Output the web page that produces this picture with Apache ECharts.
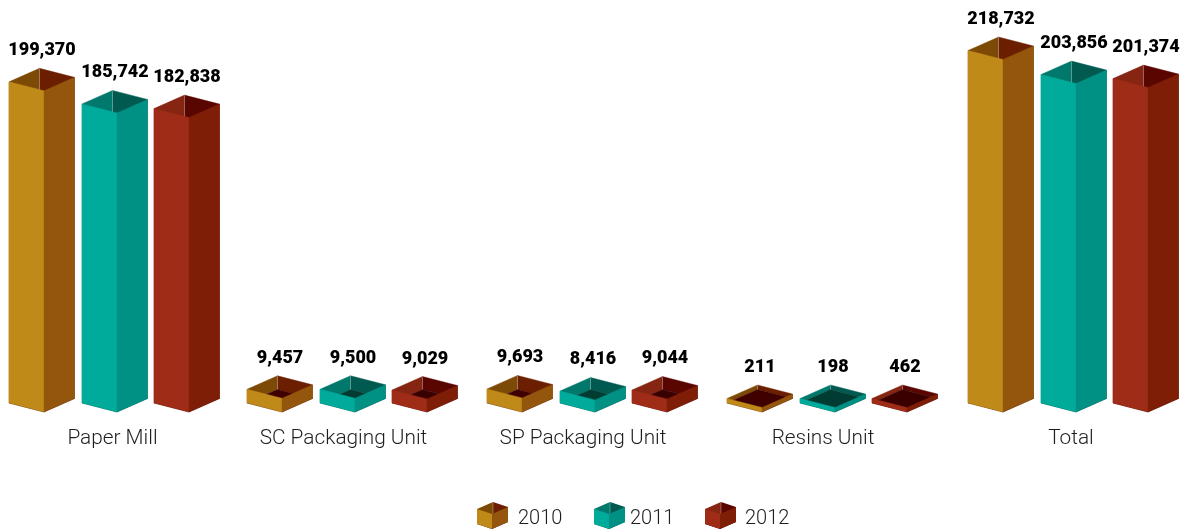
<!DOCTYPE html>
<html><head><meta charset="utf-8">
<style>html,body{margin:0;padding:0;background:#fff}#c{width:1182px;height:531px}</style>
<script src="https://cdn.jsdelivr.net/npm/echarts@6/dist/echarts.min.js"></script>
</head><body><div id="c"></div>
<script>
const categories = ['Paper Mill','SC Packaging Unit','SP Packaging Unit','Resins Unit','Total'];
const years = ['2010','2011','2012'];
const values2010 = [199370, 9457, 9693, 211, 218732];
const values2011 = [185742, 9500, 8416, 198, 203856];
const values2012 = [182838, 9029, 9044, 462, 201374];
const labelShift = [1.5, 10.25, 10.5, 10.25, 2];
const groupShift = [0, -1.75, -1.5, -1.25, 0];
const barOffset = [0, 73, 145];

const palettes = [
  {front:'#c08a19', side:'#94560c', inL:'#7d4a05', inR:'#6b1f00', floor:'#3f0000'},
  {front:'#00ab9c', side:'#009084', inL:'#00786c', inR:'#005a50', floor:'#003c32'},
  {front:'#9e2c17', side:'#7f1e06', inL:'#852512', inR:'#5a0600', floor:'#3a0000'}
];
const W1 = 35, W2 = 30.5, D1 = 9, D2 = 13.5, MIN_H = 4.5, Y_MIN = 1000;

function boxParts(fx, fy, h, p, w1, w2, d1, d2) {
  const L=[fx-w1,fy-d1-h], F=[fx,fy-h], R=[fx+w2,fy-d2-h], B=[fx-w1+w2,fy-d1-d2-h];
  const dn=(a)=>[a[0],a[1]+h];
  return [
    {pts:[L,B,dn(B),dn(L)],c:p.inL},
    {pts:[B,R,dn(R),dn(B)],c:p.inR},
    {pts:[dn(L),dn(B),dn(R),dn(F)],c:p.floor},
    {line:[B,dn(B)]},
    {pts:[L,F,dn(F),dn(L)],c:p.front},
    {pts:[F,R,dn(R),dn(F)],c:p.side}
  ];
}
function makeRender(s) {
  return function (params, api) {
    const i = api.value(0), v = api.value(1);
    const base = api.coord([i, Y_MIN]), top = api.coord([i, v]);
    const h = Math.max(base[1]-top[1], MIN_H);
    const fx = base[0]-105+groupShift[i]+barOffset[s]+W1, fy = base[1];
    const children = boxParts(fx, fy, h, palettes[s], W1, W2, D1, D2).map(o => o.line
      ? {type:'line', shape:{x1:o.line[0][0],y1:o.line[0][1],x2:o.line[1][0],y2:o.line[1][1]},
         style:{stroke:'rgba(255,255,255,0.3)',lineWidth:1}}
      : {type:'polygon', shape:{points:o.pts}, style:{fill:o.c, stroke:o.c, lineWidth:0.4}});
    children.push({type:'text', x:fx-2, y:fy-h-D1-D2-17.5,
      style:{text:echarts.format.addCommas(v), fill:'#000', font:'900 18px Roboto', align:'center', verticalAlign:'middle'}});
    return {type:'group', children};
  };
}
function legendIcon(p) {
  const parts = boxParts(15, 27, 15, p, 15, 16, 5, 7);
  const body = parts.map(o => o.line
    ? `<line x1="${o.line[0][0]}" y1="${o.line[0][1]}" x2="${o.line[1][0]}" y2="${o.line[1][1]}" stroke="#fff" stroke-opacity="0.3"/>`
    : `<polygon points="${o.pts.map(a=>a.join(',')).join(' ')}" fill="${o.c}"/>`).join('');
  return 'image://data:image/svg+xml;charset=utf8,' + encodeURIComponent(
    `<svg xmlns="http://www.w3.org/2000/svg" width="31" height="33" viewBox="0 0 31 33">${body}</svg>`);
}
const legendLefts = [477, 594, 705];
const legendPad = [5, 0, 4];
const chart = echarts.init(document.getElementById('c'));
const series = [values2010, values2011, values2012].map((vals, s) => ({
  type:'custom', name:years[s], renderItem:makeRender(s), clip:false,
  data: vals.map((v,i)=>[i,v]), encode:{x:0,y:1}
}));
chart.setOption({
  animation:false,
  backgroundColor:'#fff',
  grid:{left:114, width:959, top:7.25, bottom:119},
  xAxis:{type:'category', boundaryGap:false,
    data:categories.map((c,i)=>({value:c, textStyle:{padding:[0,labelShift[i]*2,0,0]}})),
    axisLine:{show:false}, axisTick:{show:false},
    axisLabel:{interval:0, margin:16, color:'#1e1e1e', fontFamily:'Roboto', fontWeight:300, fontSize:20.8, showMinLabel:true, showMaxLabel:true}},
  yAxis:{type:'value', min:Y_MIN, max:Y_MIN+250000, show:false},
  legend: years.map((y,s)=>({data:[{name:y, icon:legendIcon(palettes[s])}], left:legendLefts[s], top:502, padding:0,
    itemWidth:31, itemHeight:33, selectedMode:false,
    textStyle:{color:'#1e1e1e', fontFamily:'Roboto', fontWeight:300, fontSize:20, padding:[0,0,0,legendPad[s]]}})),
  series
});
</script></body></html>
